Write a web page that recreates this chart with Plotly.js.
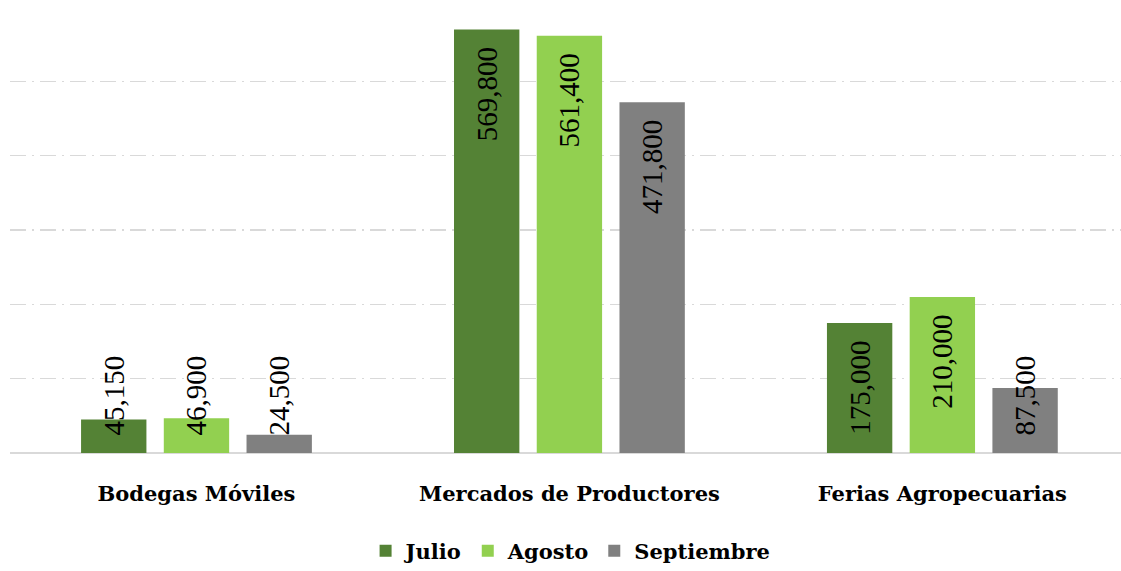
<!DOCTYPE html>
<html>
<head>
<meta charset="utf-8">
<script src="https://cdn.plot.ly/plotly-3.0.1.min.js"></script>
<style>
  html, body { margin: 0; padding: 0; background: #ffffff; }
  #chart { width: 1121px; height: 571px; }
</style>
</head>
<body>
<div id="chart"></div>
<script>
// ---- data ----
const categories = ["Bodegas Móviles", "Mercados de Productores", "Ferias Agropecuarias"];
const seriesNames = ["Julio", "Agosto", "Septiembre"];
const julio = [45150, 569800, 175000];
const agosto = [46900, 561400, 210000];
const septiembre = [24500, 471800, 87500];
const yTicks = [0, 100000, 200000, 300000, 400000, 500000, 600000];

// ---- styles ----
const colors = ["#548235", "#92D050", "#808080"];
const seriesValues = [julio, agosto, septiembre];
const fitThreshold = 100000; // below this, label does not fit inside the bar
const NB = "\u00A0\u00A0";

const labelFont = { family: "Liberation Serif", size: 29, color: "#000000" };
const boldFont = { family: "DejaVu Serif", size: 21, color: "#000000", weight: "bold" };

const traces = [];
seriesValues.forEach((vals, i) => {
  traces.push({
    type: "bar",
    name: seriesNames[i],
    x: categories,
    y: vals,
    offsetgroup: String(i),
    marker: { color: colors[i] },
    texttemplate: vals.map(v => v >= fitThreshold ? "%{y:,}" + NB : ""),
    textposition: "inside",
    insidetextanchor: "end",
    textangle: -90,
    constraintext: "none",
    textfont: labelFont,
    insidetextfont: labelFont,
    hoverinfo: "x+y+name"
  });
});
seriesValues.forEach((vals, i) => {
  traces.push({
    type: "bar",
    name: seriesNames[i],
    showlegend: false,
    x: categories,
    y: vals.map(v => v < fitThreshold ? v : null),
    offsetgroup: String(i),
    marker: { color: "rgba(0,0,0,0)" },
    texttemplate: NB + "%{y:,}",
    textposition: "inside",
    insidetextanchor: "start",
    textangle: -90,
    constraintext: "none",
    textfont: labelFont,
    insidetextfont: labelFont,
    cliponaxis: false,
    hoverinfo: "skip"
  });
});

const layout = {
  width: 1121,
  height: 571,
  margin: { l: 10, r: 0, t: 7, b: 118 },
  paper_bgcolor: "#ffffff",
  plot_bgcolor: "#ffffff",
  font: { family: "DejaVu Serif" },
  barmode: "group",
  bargap: 0.3345,
  bargroupgap: 0.21,
  showlegend: true,
  legend: {
    orientation: "h",
    xref: "container",
    x: 0.509,
    xanchor: "center",
    yref: "container",
    y: 0.035,
    yanchor: "middle",
    font: boldFont,
    itemwidth: 30,
    traceorder: "normal"
  },
  xaxis: {
    type: "category",
    range: [-0.5, 2.479],
    showgrid: false,
    zeroline: false,
    showline: false,
    ticks: "",
    tickfont: boldFont,
    ticklabelstandoff: 26,
    fixedrange: true
  },
  yaxis: {
    range: [0, 600000],
    tickvals: yTicks,
    showticklabels: false,
    showgrid: true,
    gridcolor: "#D9D9D9",
    gridwidth: 1.5,
    griddash: "16px,6px,2px,6px",
    zeroline: true,
    zerolinecolor: "#D9D9D9",
    zerolinewidth: 2,
    showline: false,
    fixedrange: true
  }
};

Plotly.newPlot("chart", traces, layout, { displayModeBar: false, staticPlot: true });
</script>
</body>
</html>
